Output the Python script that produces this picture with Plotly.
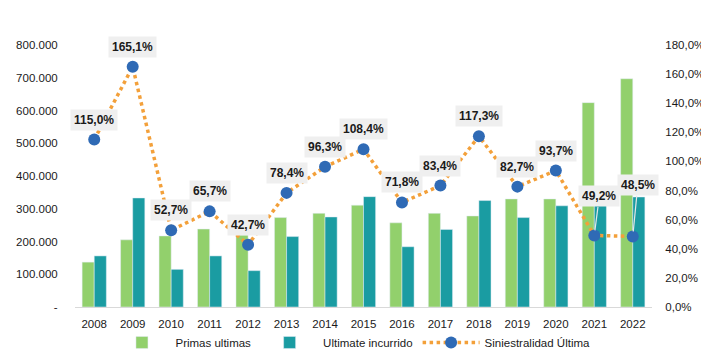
import plotly.graph_objects as go

years = [2008, 2009, 2010, 2011, 2012, 2013, 2014, 2015,
         2016, 2017, 2018, 2019, 2020, 2021, 2022]
primas = [137000, 205000, 217000, 238000, 220000, 273000, 286000, 311000,
          257000, 286000, 278000, 330000, 330000, 624000, 697000]
ultimate = [156000, 333000, 115000, 156000, 111000, 215000, 275000, 337000,
            184000, 237000, 325000, 273000, 309000, 311000, 336000]
sini = [1.150, 1.651, 0.527, 0.657, 0.427, 0.784, 0.963, 1.084,
        0.718, 0.834, 1.173, 0.827, 0.937, 0.492, 0.485]

left_vals = [0, 100000, 200000, 300000, 400000, 500000, 600000, 700000, 800000]
left_text = ["-", "100.000", "200.000", "300.000", "400.000", "500.000",
             "600.000", "700.000", "800.000"]
right_vals = [0, 0.2, 0.4, 0.6, 0.8, 1.0, 1.2, 1.4, 1.6, 1.8]
right_text = ["0,0%", "20,0%", "40,0%", "60,0%", "80,0%", "100,0%",
              "120,0%", "140,0%", "160,0%", "180,0%"]

GREEN = "#92D06C"
TEAL = "#1A9CA2"
ORANGE = "#F3A03A"
BLUE = "#2F6AB5"
FONT = "Liberation Sans, Arial"

fig = go.Figure()
fig.add_trace(go.Bar(x=years, y=primas, name="Primas ultimas",
                     marker_color=GREEN, yaxis="y", offsetgroup="a"))
fig.add_trace(go.Bar(x=years, y=ultimate, name="Ultimate incurrido",
                     marker_color=TEAL, yaxis="y", offsetgroup="b"))
fig.add_trace(go.Scatter(x=years, y=sini, name="Siniestralidad Última",
                         mode="lines+markers", yaxis="y2",
                         line=dict(color=ORANGE, width=3.5, dash="dot"),
                         marker=dict(color=BLUE, size=12)))

annotations = []
for yr, v in zip(years, sini):
    txt = f"{v*100:.1f}%".replace(".", ",")
    if yr == 2021:
        ax, ay, arrow = 5, -39, True
    elif yr == 2022:
        ax, ay, arrow = 5, -51, True
    else:
        ax, ay, arrow = 0, -20, False
    annotations.append(dict(
        x=yr, y=v, xref="x", yref="y2", text=f"<b>{txt}</b>",
        showarrow=True, arrowhead=0, arrowwidth=1.2,
        arrowcolor="#E6E6E6" if arrow else "rgba(0,0,0,0)",
        ax=ax, ay=ay, standoff=5 if arrow else 0,
        xanchor="center", yanchor="middle",
        bgcolor="#EFEFEF", borderpad=3,
        font=dict(family=FONT, size=12, color="#1a1a1a")))

fig.update_layout(
    width=701, height=355,
    margin=dict(l=67, r=57, t=37, b=56, autoexpand=False),
    paper_bgcolor="white", plot_bgcolor="white",
    barmode="group", bargap=0.37, bargroupgap=0,
    font=dict(family=FONT, size=11.5, color="#1a1a1a"),
    xaxis=dict(range=[2007.5, 2022.5], tickmode="array", tickvals=years,
               ticktext=[str(y) for y in years], automargin=False,
               showgrid=False, showline=True, zeroline=False,
               linecolor="#D9D9D9", linewidth=1, ticks="outside", ticklen=6,
               tickcolor="rgba(0,0,0,0)", tickfont=dict(size=11.5)),
    yaxis=dict(range=[0, 800000], tickmode="array", tickvals=left_vals,
               ticktext=left_text, showgrid=False, zeroline=False,
               automargin=False, ticks="outside", ticklen=14,
               tickcolor="rgba(0,0,0,0)", tickfont=dict(size=11.5)),
    yaxis2=dict(range=[0, 1.8], tickmode="array", tickvals=right_vals,
                ticktext=right_text, overlaying="y", side="right",
                automargin=False, ticks="outside", ticklen=10,
                tickcolor="rgba(0,0,0,0)",
                showgrid=False, zeroline=False, tickfont=dict(size=11.5)),
    legend=dict(orientation="h", x=0.48, xanchor="center", y=-0.08,
                yanchor="top", font=dict(size=11.5), traceorder="normal",
                itemwidth=57),
    annotations=annotations,
    showlegend=True,
)

fig.write_html("out.html")
